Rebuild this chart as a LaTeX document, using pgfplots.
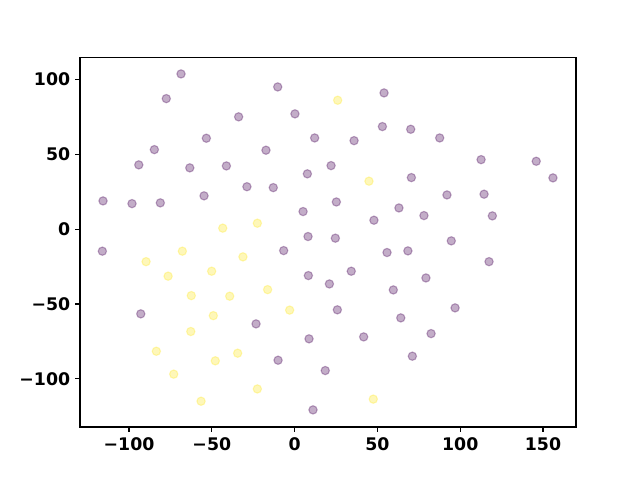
\documentclass[border=0pt]{standalone}
\usepackage{fontspec}
\setmainfont{DejaVu Sans}
\usepackage{pgfplots}
\pgfplotsset{compat=1.18}
\definecolor{vpurple}{HTML}{440154}
\definecolor{vyellow}{HTML}{FDE725}
\begin{document}
\begin{tikzpicture}
\begin{axis}[
  at={(0,0)}, anchor=south west,
  scale only axis, width=357.1pt, height=265.7pt,
  xmin=-129.6, xmax=169.9, ymin=-132.2, ymax=114.5,
  xtick={-100,-50,0,50,100,150},
  xticklabels={−100,−50,0,50,100,150},
  ytick={-100,-50,0,50,100},
  yticklabels={−100,−50,0,50,100},
  tick pos=left, tick align=outside,
  major tick length=3.5pt,
  every tick/.style={black, line width=0.8pt},
  axis line style={line width=0.8pt},
  tick label style={font=\bfseries\fontsize{12.5}{14}\selectfont},
  xticklabel style={yshift=-0.5pt},
]
\addplot[only marks, mark=*, mark size=3pt, line width=0.8pt,
  mark options={draw=vpurple, fill=vpurple, draw opacity=0.32, fill opacity=0.32}]
coordinates {
(-68.6,103.8) (-77.5,87.3) (-33.8,75.1) (-53.3,60.8) (-84.7,53.2) (-94.1,43.0)
(-63.3,41.0) (-41.2,42.3) (-28.8,28.4) (-115.7,18.9) (-98.2,17.1) (-81.1,17.6)
(-54.7,22.3) (-10.2,95.1) (54.0,91.1) (0.2,77.1) (53.0,68.6) (70.1,66.8)
(12.1,61.0) (35.9,59.2) (-17.3,52.8) (22.0,42.5) (7.7,37.0) (70.5,34.5)
(-12.9,27.8) (25.2,18.2) (5.1,11.8) (63.0,14.2) (47.9,6.0) (8.1,-4.9)
(24.6,-6.0) (87.6,61.0) (112.6,46.5) (145.9,45.4) (156.0,34.3) (92.0,22.9)
(114.4,23.4) (78.1,9.1) (119.4,8.9) (94.6,-7.8) (-116.1,-14.7) (-92.9,-56.6)
(-6.6,-14.3) (55.8,-15.6) (68.4,-14.5) (8.3,-31.0) (34.2,-28.1) (21.0,-36.6)
(59.6,-40.6) (25.8,-53.9) (64.1,-59.3) (-23.3,-63.3) (8.7,-73.3) (41.7,-72.0)
(71.1,-84.9) (-10.0,-87.6) (18.5,-94.5) (11.1,-120.8) (117.4,-21.7) (79.3,-32.6)
(96.9,-52.6) (82.4,-69.8)
};
\addplot[only marks, mark=*, mark size=3pt, line width=0.8pt,
  mark options={draw=vyellow, fill=vyellow, draw opacity=0.32, fill opacity=0.32}]
coordinates {
(-43.4,0.7) (26.0,86.2) (44.9,32.1) (-22.5,4.0)
(-67.8,-14.7) (-31.2,-18.5) (-89.7,-21.7) (-50.1,-28.1) (-76.4,-31.4)
(-62.4,-44.4) (-39.2,-44.8) (-49.1,-57.8) (-62.7,-68.4) (-83.5,-81.6)
(-34.4,-82.9) (-47.9,-88.0) (-73.0,-96.9) (-56.5,-115.0)
(-16.3,-40.4) (-3.0,-54.1) (-22.5,-106.8) (47.5,-113.6)
};
\end{axis}
\path[use as bounding box] (-57.6pt,-38.2pt) rectangle (403.2pt,307.4pt);
\end{tikzpicture}
\end{document}
